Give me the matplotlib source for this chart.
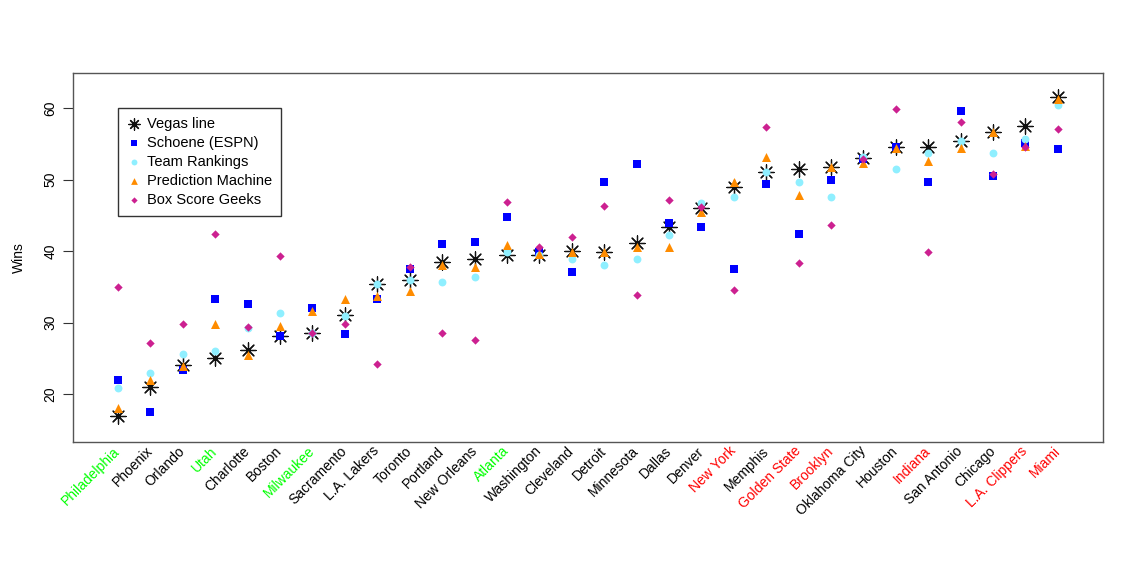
import matplotlib.pyplot as plt

plt.rcParams['font.family'] = ['Liberation Sans', 'DejaVu Sans']

teams = ["Philadelphia", "Phoenix", "Orlando", "Utah", "Charlotte", "Boston",
         "Milwaukee", "Sacramento", "L.A. Lakers", "Toronto", "Portland",
         "New Orleans", "Atlanta", "Washington", "Cleveland", "Detroit",
         "Minnesota", "Dallas", "Denver", "New York", "Memphis",
         "Golden State", "Brooklyn", "Oklahoma City", "Houston", "Indiana",
         "San Antonio", "Chicago", "L.A. Clippers", "Miami"]

vegas = [17.0, 21.0, 24.1, 25.0, 26.1, 28.1, 28.5, 31.1, 35.4, 35.9,
         38.4, 38.9, 39.4, 39.4, 40.0, 39.9, 41.1, 43.4, 46.0, 49.0,
         51.0, 51.5, 51.8, 53.0, 54.5, 54.5, 55.4, 56.6, 57.5, 61.5]
schoene = [21.9, 17.5, 23.3, 33.3, 32.6, 28.1, 32.1, 28.4, 33.3, 37.5,
           41.0, 41.3, 44.8, 39.8, 37.0, 49.6, 52.1, 43.9, 43.4, 37.5,
           49.4, 42.4, 50.0, 52.8, 54.5, 49.7, 59.6, 50.5, 55.1, 54.3]
team_rankings = [20.9, 22.9, 25.6, 26.0, 29.2, 31.3, 28.6, 30.9, 35.4, 35.9,
                 35.7, 36.3, 39.9, 39.5, 38.9, 38.1, 38.9, 42.2, 46.7, 47.6,
                 51.0, 49.6, 47.6, 53.2, 51.5, 53.7, 55.4, 53.7, 55.7, 60.4]
prediction_machine = [18.1, 22.0, 23.9, 29.8, 25.4, 29.5, 31.6, 33.3, 33.7, 34.4,
                      38.0, 37.8, 40.8, 39.6, 39.9, 39.9, 40.5, 40.6, 45.5, 49.7,
                      53.2, 47.9, 51.7, 52.3, 54.4, 52.6, 54.4, 56.6, 54.7, 61.3]
box_score_geeks = [35.0, 27.2, 29.8, 42.4, 29.4, 39.3, 28.5, 29.8, 24.2, 37.8,
                   28.6, 27.6, 46.9, 40.5, 41.9, 46.3, 33.8, 47.2, 46.2, 34.5,
                   57.3, 38.3, 43.6, 52.8, 59.9, 39.8, 58.0, 50.8, 54.6, 57.0]

green_teams = ["Philadelphia", "Utah", "Milwaukee", "Atlanta"]
red_teams = ["New York", "Golden State", "Brooklyn", "Indiana", "L.A. Clippers", "Miami"]

xs = list(range(1, len(teams) + 1))

fig = plt.figure(figsize=(11.4, 5.7), dpi=100)
ax = fig.add_axes([0.064, 0.2246, 0.9035, 0.6474])

ax.scatter(xs, vegas, marker=(8, 2, 0), s=120, color="#111111", linewidths=0.9,
           label="Vegas line", zorder=2)
ax.scatter(xs, schoene, marker="s", s=30, color="#0000FF", linewidths=0,
           label="Schoene (ESPN)", zorder=3)
ax.scatter(xs, team_rankings, marker="o", s=32, color="#8FEFFF", linewidths=0,
           label="Team Rankings", zorder=4)
ax.scatter(xs, prediction_machine, marker="^", s=42, color="#FF8C00", linewidths=0,
           label="Prediction Machine", zorder=5)
ax.scatter(xs, box_score_geeks, marker="D", s=18, color="#CC2090", linewidths=0,
           label="Box Score Geeks", zorder=6)

ax.set_xlim(-0.39, 31.39)
ax.set_ylim(13.3, 64.9)
ax.set_yticks([20, 30, 40, 50, 60])
ax.set_ylabel("Wins", fontsize=10, labelpad=13)

ax.set_xticks(xs)
ax.set_xticklabels(teams, rotation=45, ha="right", va="center",
                   rotation_mode="anchor", fontsize=10)
for lab in ax.get_xticklabels():
    if lab.get_text() in green_teams:
        lab.set_color("#00FF00")
    elif lab.get_text() in red_teams:
        lab.set_color("#FF0000")

ax.tick_params(axis="x", length=0, pad=5)
ax.tick_params(axis="y", length=7, pad=4, labelsize=10, color="#333333")
for lab in ax.get_yticklabels():
    lab.set_rotation(90)
    lab.set_va("center")

for sp in ax.spines.values():
    sp.set_color("#555555")
    sp.set_linewidth(1)

# legend box sits inside the upper-left corner, like R's legend(x, y, ...)
leg = ax.legend(loc="upper left", bbox_to_anchor=(0.0437, 0.905), fontsize=10.5,
                frameon=True, fancybox=False, edgecolor="black",
                handletextpad=0.4, borderpad=0.6, labelspacing=0.35,
                handlelength=1.0, scatterpoints=1, borderaxespad=0,
                markerscale=0.75)
leg.get_frame().set_linewidth(1)

fig.savefig("out.png", dpi=100)
